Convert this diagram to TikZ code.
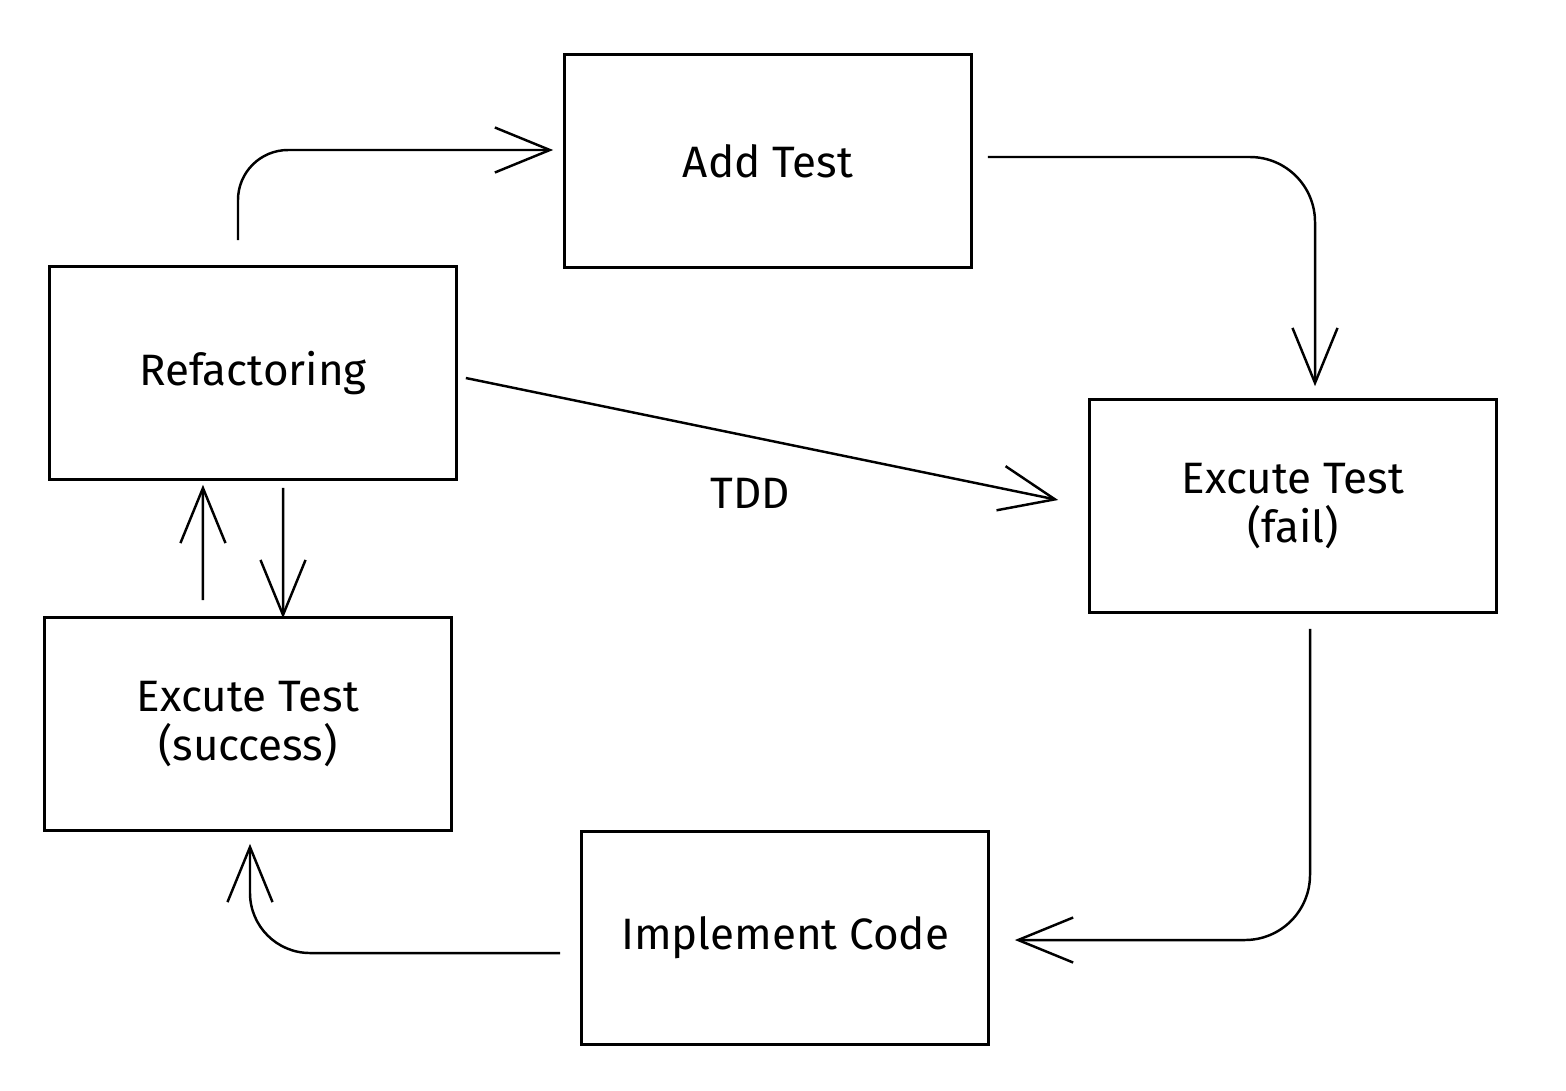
\documentclass[tikz,border=0pt]{standalone}
\usepackage{fontspec}
\setmainfont{Fira Sans}
\usetikzlibrary{arrows.meta}
\begin{document}
\begin{tikzpicture}[x=0.01cm,y=-0.01cm]
\tikzstyle{every node}+=[inner sep=0pt]
\tikzstyle{box}=[draw,line width=0.7pt,minimum width=4.07cm,minimum height=2.13cm,align=center,font=\fontsize{12.5}{14}\selectfont]
\tikzstyle{arr}=[line width=0.7pt,-{Straight Barb[length=5.5mm,width=4.5mm]}]
\useasboundingbox (0,0) rectangle (1566,1090);
\node[box] (addtest) at (768,161) {Add Test};
\node[box] (refac) at (253,373) {Refactoring};
\node[box] (fail) at (1293,506) {Excute Test\\(fail)};
\node[box] (succ) at (248,724) {Excute Test\\(success)};
\node[box] (impl) at (785,938) {Implement Code};
\node[font=\fontsize{12.5}{14}\selectfont] (tdd) at (750,493) {TDD};
\draw[arr,rounded corners=0.5cm] ([xshift=-0.15cm,yshift=0.25cm]refac.north) |- ([xshift=-0.1cm,yshift=0.11cm]addtest.west);
\draw[arr,rounded corners=0.65cm] ([xshift=0.15cm,yshift=0.04cm]addtest.east) -| ([xshift=0.22cm,yshift=0.12cm]fail.north);
\draw[arr,rounded corners=0.65cm] ([xshift=0.17cm,yshift=-0.15cm]fail.south) |- ([xshift=0.25cm,yshift=-0.02cm]impl.east);
\draw[arr,rounded corners=0.6cm] ([xshift=-0.2cm,yshift=-0.15cm]impl.west) -| ([xshift=0.02cm,yshift=-0.12cm]succ.south);
\draw[arr] ([xshift=0.3cm,yshift=-0.07cm]refac.south) -- ([xshift=0.35cm,yshift=-0.02cm]succ.north);
\draw[arr] ([xshift=-0.45cm,yshift=0.16cm]succ.north) -- ([xshift=-0.5cm,yshift=-0.04cm]refac.south);
\draw[arr] ([xshift=0.08cm,yshift=-0.05cm]refac.east) -- ([xshift=-0.3cm,yshift=0.06cm]fail.west);
\end{tikzpicture}
\end{document}
